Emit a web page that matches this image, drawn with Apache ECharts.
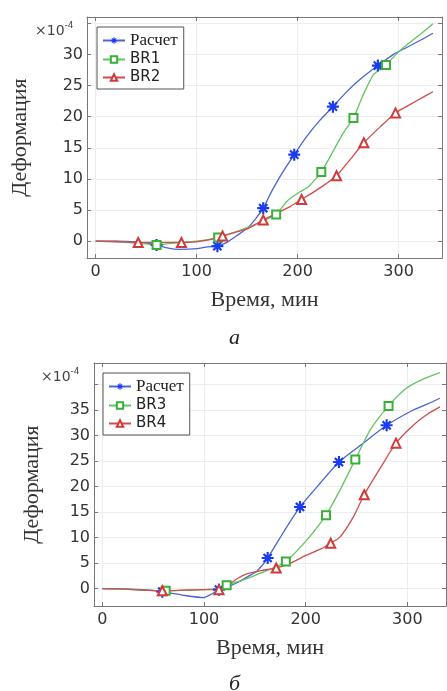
<!DOCTYPE html>
<html>
<head>
<meta charset="utf-8">
<script src="https://cdn.jsdelivr.net/npm/echarts@6/dist/echarts.min.js"></script>
<style>
  html, body { margin: 0; padding: 0; background: #fff; }
  #main { width: 447px; height: 691px; }
</style>
</head>
<body>
<div id="main"></div>
<script>
// ticks / labels
const xTicks = [0, 100, 200, 300];
const yTicksA = [0, 5, 10, 15, 20, 25, 30, 35];
const yLabelsA = [0, 5, 10, 15, 20, 25, 30];
const yTicksB = [0, 5, 10, 15, 20, 25, 30, 35, 40];
const yLabelsB = [0, 5, 10, 15, 20, 25, 30, 35];

// (а) Расчет
const calcA_line = [[0, 0], [20, 0], [40, -0.1], [50, -0.3], [72, -1.1], [83, -1.3], [100, -1.2], [111, -0.9],
  [130, -0.2], [140, 0.9], [151, 2.2], [158, 3.5], [175, 8.2], [185, 11], [208, 16.6], [222, 19.4],
  [248, 23.9], [262, 26], [295, 30], [308, 31.1], [322, 32.3], [334, 33.4]];
const calcA_marks = [[60.4, -0.6], [120.6, -0.8], [166, 5.3], [196.7, 13.9], [235, 21.6], [279.5, 28.2]];
// (а) BR1
const br1_line = [[0, 0], [20, -0.1], [40, -0.3], [72, -0.4], [85, -0.2], [100, 0], [110, 0.2], [135, 1.3],
  [150, 2.2], [165, 3.2], [190, 6.5], [202, 7.9], [210.5, 8.7], [218, 10], [232, 13.5], [245, 17.3],
  [265, 23.5], [275, 26.7], [300, 30.4], [308, 31.5], [322.8, 33.4], [334, 34.9]];
const br1_marks = [[60.4, -0.6], [121.4, 0.6], [178.8, 4.3], [223.5, 11.1], [255.3, 19.8], [287.5, 28.3]];
// (а) BR2
const br2_line = [[0, 0], [20, -0.05], [60, -0.2], [100, -0.1], [112, 0.2], [140, 1.5], [152, 2.1], [180, 4.5],
  [192, 5.5], [215, 7.8], [228, 9.2], [252, 13.1], [282, 18.4], [312, 22], [324, 23.1], [334, 24]];
const br2_marks = [[42.2, -0.2], [85, -0.2], [125.7, 0.85], [166, 3.4], [204, 6.7], [238.6, 10.5], [265.6, 15.8], [297, 20.6]];

// (б) Расчет
const calcB_line = [[0, 0], [20, -0.05], [40, -0.2], [80, -1.3], [99.3, -1.77], [108, -1.0], [125, 0.5], [135, 1.4],
  [145, 2.6], [152, 3.4], [178, 11], [214, 20.6], [256.6, 28.5], [305.8, 35], [320, 36.2], [332, 37.3]];
const calcB_marks = [[59, -0.6], [114.7, -0.2], [162.6, 6], [194.4, 16], [232.7, 24.8], [279.6, 32]];
// (б) BR3
const br3_line = [[0, 0], [20, -0.1], [40, -0.3], [80, -0.3], [100, -0.2], [112, 0], [140, 1.8], [155, 3],
  [170, 4.2], [201, 9.5], [233.7, 19.3], [263.2, 31], [299.3, 39.3], [315, 41], [332, 42.3]];
const br3_marks = [[62.3, -0.4], [122.3, 0.65], [180.5, 5.3], [220, 14.4], [248.8, 25.3], [281.5, 35.8]];
// (б) BR4
const br4_line = [[0, 0], [20, -0.05], [40, -0.3], [80, -0.3], [100, -0.2], [122, 0.5], [133, 2], [142, 2.9],
  [155, 3.5], [185, 5], [200, 6.5], [215, 7.8], [233.7, 10.1], [246.8, 14], [273, 23.5], [305.8, 32], [320, 34.2], [332, 35.6]];
const br4_marks = [[59, -0.4], [114.7, -0.2], [171, 4.05], [224.6, 8.9], [257.6, 18.4], [288.8, 28.5]];

// asterisk marker: four crossing bars
const star = 'path://M0 8.2L20 8.2L20 11.8L0 11.8Z M8.2 0L11.8 0L11.8 20L8.2 20Z ' +
  'M4.5 1.9L18.1 15.5L15.5 18.1L1.9 4.5Z M15.5 1.9L18.1 4.5L4.5 18.1L1.9 15.5Z';

const BLUE = '#4a64d6', BLUE_M = '#1c3cf0';
const GREEN = '#62c462', GREEN_M = '#36b036';
const RED = '#d24c4c', RED_M = '#d03a3a';
const SERIF = 'Liberation Serif';
const SANS = 'DejaVu Sans';

const merge = (line, marks) => line.map(p => ({ value: p, symbol: 'none' }))
  .concat(marks.map(p => ({ value: p })))
  .sort((a, b) => a.value[0] - b.value[0]);

const mkSeries = (name, line, marks, sym, size, lc, mc, idx) => ({
  name, type: 'line', xAxisIndex: idx, yAxisIndex: idx,
  data: merge(line, marks),
  symbol: sym, symbolSize: size, showAllSymbol: true,
  smooth: 0.2,
  lineStyle: { color: lc, width: 1.3 },
  itemStyle: { color: mc, borderWidth: 1.1 }
});

const axisLine = { show: true, onZero: false, lineStyle: { color: '#777', width: 1 } };
const tickStyle = { color: '#777' };
const labelStyle = { fontFamily: SANS, fontSize: 16, color: '#333' };

const xMain = (grid, min, max) => ({
  type: 'value', gridIndex: grid, min, max, position: 'bottom',
  name: 'Время, мин', nameLocation: 'middle', nameGap: 31,
  nameTextStyle: { fontFamily: SERIF, fontSize: 22, color: '#333' },
  axisLine, axisTick: { inside: true, length: 4, customValues: xTicks, lineStyle: tickStyle },
  axisLabel: Object.assign({ customValues: xTicks, margin: 6 }, labelStyle),
  splitLine: { show: true, lineStyle: { color: '#ededed' } }
});
const xTop = (grid, min, max) => ({
  type: 'value', gridIndex: grid, min, max, position: 'top',
  axisLine, axisTick: { inside: true, length: 4, customValues: xTicks, lineStyle: tickStyle },
  axisLabel: { show: false }, splitLine: { show: false }
});
const yMain = (grid, min, max, ticks, labels, gap) => ({
  type: 'value', gridIndex: grid, min, max, position: 'left',
  name: 'Деформация', nameLocation: 'middle', nameGap: gap,
  nameTextStyle: { fontFamily: SERIF, fontSize: 22, color: '#333' },
  axisLine, axisTick: { inside: true, length: 4, customValues: ticks, lineStyle: tickStyle },
  axisLabel: Object.assign({ customValues: labels, margin: 4 }, labelStyle),
  splitLine: { show: true, lineStyle: { color: '#ededed' } }
});
const yRight = (grid, min, max, ticks) => ({
  type: 'value', gridIndex: grid, min, max, position: 'right',
  axisLine, axisTick: { inside: true, length: 4, customValues: ticks, lineStyle: tickStyle },
  axisLabel: { show: false }, splitLine: { show: false }
});

const legendFmt = n => n === 'Расчет' ? '{s|' + n + '}' : '{n|' + n + '}';
const legendText = {
  rich: {
    s: { fontFamily: SERIF, fontSize: 17, color: '#222' },
    n: { fontFamily: SANS, fontSize: 15, color: '#222' }
  }
};
const mkLegend = (left, top, names) => ({
  data: names, orient: 'vertical', left, top,
  backgroundColor: '#fff', borderColor: '#555', borderWidth: 1,
  padding: [5, 6, 4, 5], itemGap: 3, itemWidth: 22, itemHeight: 8,
  formatter: legendFmt, textStyle: legendText, selectedMode: false
});

const sciTitle = (left, top) => ({
  text: '{a|×10}{b|-4}', left, top,
  textStyle: {
    fontWeight: 'normal',
    rich: {
      a: { fontFamily: SANS, fontSize: 14, color: '#444', lineHeight: 20, fontWeight: 'normal' },
      b: { fontFamily: SANS, fontSize: 9, color: '#444', verticalAlign: 'top', lineHeight: 20, fontWeight: 'normal' }
    }
  }
});
const caption = (text, left, top) => ({
  text, left, top,
  textStyle: { fontFamily: SERIF, fontSize: 22, fontStyle: 'italic', fontWeight: 'normal', color: '#222' }
});

const chart = echarts.init(document.getElementById('main'));
chart.setOption({
  animation: false,
  backgroundColor: '#fff',
  title: [sciTitle(30, 16), sciTitle(36, 362), caption('а', 224, 322), caption('б', 224, 668)],
  legend: [mkLegend(97, 27, ['Расчет', 'BR1', 'BR2']), mkLegend(103, 373, ['Расчет', 'BR3', 'BR4'])],
  grid: [
    { left: 87, right: 5, top: 17, bottom: 433 },
    { left: 94, right: 1, top: 363, bottom: 85 }
  ],
  xAxis: [xMain(0, -8.5, 343), xMain(1, -8.2, 338), xTop(0, -8.5, 343), xTop(1, -8.2, 338)],
  yAxis: [yMain(0, -2.7, 36, yTicksA, yLabelsA, 56), yMain(1, -3.4, 44.2, yTicksB, yLabelsB, 51),
    yRight(0, -2.7, 36, yTicksA), yRight(1, -3.4, 44.2, yTicksB)],
  series: [
    mkSeries('Расчет', calcA_line, calcA_marks, star, 12, BLUE, BLUE_M, 0),
    mkSeries('BR1', br1_line, br1_marks, 'emptyRect', 8, GREEN, GREEN_M, 0),
    mkSeries('BR2', br2_line, br2_marks, 'emptyTriangle', 9, RED, RED_M, 0),
    mkSeries('Расчет', calcB_line, calcB_marks, star, 12, BLUE, BLUE_M, 1),
    mkSeries('BR3', br3_line, br3_marks, 'emptyRect', 8, GREEN, GREEN_M, 1),
    mkSeries('BR4', br4_line, br4_marks, 'emptyTriangle', 9, RED, RED_M, 1)
  ]
});
</script>
</body>
</html>
